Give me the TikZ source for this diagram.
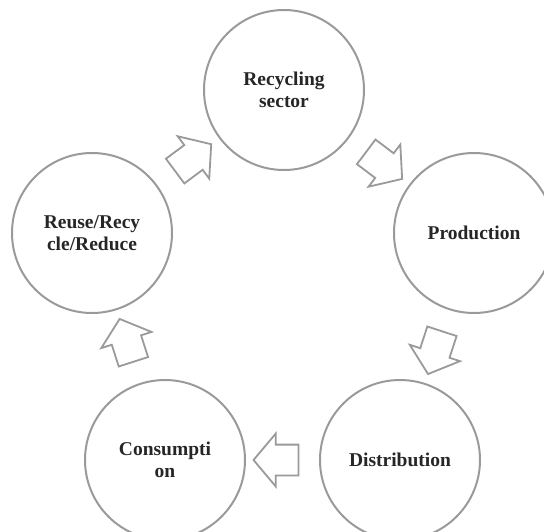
\documentclass[tikz,border=0pt]{standalone}
\usepackage{fontspec}
\setmainfont{Liberation Serif}
\usetikzlibrary{shapes.arrows}
\definecolor{ring}{HTML}{9A9A9A}

\begin{document}
\begin{tikzpicture}[x=1pt,y=-1pt,
  stage/.style={circle,draw=ring,line width=2pt,minimum size=160pt,inner sep=0pt,
    align=center,font=\fontsize{19.5}{22}\selectfont\bfseries,text=black!85},
  flow/.style={single arrow,draw=ring,line width=1.8pt,fill=white,
    inner xsep=0pt,inner ysep=14.5pt,minimum height=45pt,
    single arrow head extend=11pt,single arrow tip angle=100,
    sloped,allow upside down}]
  \useasboundingbox (0,0) rectangle (544,531);
  \clip (0,0) rectangle (544,531);
  % the five stages of the cycle
  \node[stage] (recyc) at (284,90) {Recycling\\sector};
  \node[stage] (prod) at (474,233) {Production};
  \node[stage] (distr) at (400,460) {Distribution};
  \node[stage] (cons) at (165,460) {Consumpti\\on};
  \node[stage] (reuse) at (92,233) {Reuse/Recy\\cle/Reduce};
  % hollow block arrows between them
  \foreach \a/\b in {reuse/recyc,recyc/prod,prod/distr,distr/cons,cons/reuse}
    \path (\a) -- (\b) node[flow,midway] {};
\end{tikzpicture}
\end{document}
